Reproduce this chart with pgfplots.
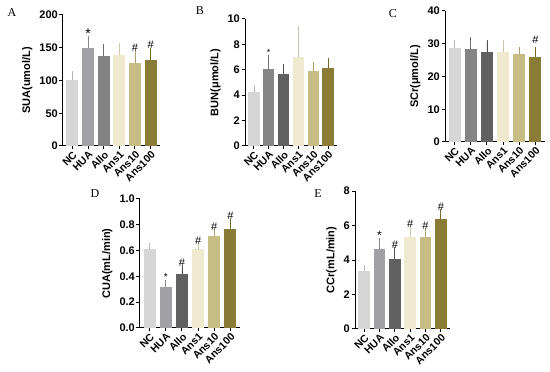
\documentclass[border=0pt]{standalone}
\usepackage{pgfplots}
\pgfplotsset{compat=1.18}
\usepackage{fontspec}
\setmainfont{Liberation Sans}
\newfontfamily\serif{Liberation Serif}
\definecolor{cNC}{HTML}{D6D6D6}
\definecolor{cHUA}{HTML}{A0A0A5}
\definecolor{cHUAb}{HTML}{858585}
\definecolor{cAlloA}{HTML}{828282}
\definecolor{cAllo}{HTML}{606060}
\definecolor{cA1}{HTML}{EFE9CF}
\definecolor{cA10}{HTML}{C7BC84}
\definecolor{cA100}{HTML}{8A7B36}
\newcommand{\onebar}[4]{\addplot[fill=#1, draw=none, error bars/.cd, y dir=plus, y explicit, error bar style={#1!85!black, line width=0.8pt}, error mark options={#1!85!black, mark size=2.8pt, line width=0.8pt}] coordinates {(#2,#3) +- (0,#4)};}
\newcommand{\hashfont}{\fontsize{11}{11}\selectfont}
\pgfplotsset{panel/.style={
  scale only axis, ymin=0, xmin=-0.6, xmax=5.6,
  axis x line=bottom, axis y line=left, axis line style={-, line width=1pt},
  tick style={black, line width=1pt}, tick align=outside, major tick length=3.5pt,
  ybar=0pt, bar width=0.76, bar shift=0pt,
  xtick={0,...,5}, xticklabels={NC,HUA,Allo,Ans1,Ans10,Ans100},
  x tick label style={rotate=45, anchor=north east, inner sep=0.5pt, font=\bfseries\fontsize{10.5}{10.5}\selectfont},
  y tick label style={font=\bfseries\fontsize{11}{11}\selectfont, inner sep=1.5pt},
  label style={font=\bfseries\fontsize{11}{11}\selectfont},
  /pgf/number format/assume math mode=true,
  clip=false,
  ylabel style={yshift=2pt},
}}
\begin{document}
\begin{tikzpicture}
\useasboundingbox (0pt,0pt) rectangle (550pt,372pt);
% A
\begin{axis}[panel, at={(63pt,226pt)}, anchor=south west, width=97pt, height=131pt, ymax=200, ytick={0,50,...,200}, ylabel={SUA(umol/L)}]
\onebar{cNC}{0}{100}{10}
\onebar{cHUA}{1}{150}{13}
\onebar{cAlloA}{2}{138}{13}
\onebar{cA1}{3}{139}{14}
\onebar{cA10}{4}{127}{13}
\onebar{cA100}{5}{132}{13}
\node[anchor=south, font=\fontsize{14}{14}\selectfont, inner sep=0pt] at (axis cs:1,164) {*};
\node[anchor=south, font=\hashfont, inner sep=1pt] at (axis cs:4,142) {\#};
\node[anchor=south, font=\hashfont, inner sep=1pt] at (axis cs:5,147) {\#};
\end{axis}
% B
\begin{axis}[panel, at={(245pt,226pt)}, anchor=south west, width=92pt, height=127pt, ymax=10, ytick={0,2,...,10}, ylabel={BUN(μmol/L)}]
\onebar{cNC}{0}{4.25}{0.35}
\onebar{cHUAb}{1}{6.1}{0.85}
\onebar{cAllo}{2}{5.7}{0.55}
\onebar{cA1}{3}{7.0}{2.2}
\onebar{cA10}{4}{5.9}{0.5}
\onebar{cA100}{5}{6.15}{0.55}
\node[anchor=south, font=\fontsize{9}{9}\selectfont, inner sep=1pt] at (axis cs:1,7.05) {*};
\end{axis}
% C
\begin{axis}[panel, at={(445pt,230pt)}, anchor=south west, width=100pt, height=131pt, ymax=40, ytick={0,10,...,40}, ylabel={SCr(μmol/L)}]
\onebar{cNC}{0}{28.8}{1.5}
\onebar{cHUAb}{1}{28.3}{2.9}
\onebar{cAllo}{2}{27.5}{2.9}
\onebar{cA1}{3}{27.5}{2.9}
\onebar{cA10}{4}{26.8}{1.4}
\onebar{cA100}{5}{26.1}{2.2}
\node[anchor=south, font=\hashfont, inner sep=1pt] at (axis cs:5,29.6) {\#};
\end{axis}
% D
\begin{axis}[panel, at={(140pt,44pt)}, anchor=south west, width=100pt, height=129pt, ymax=1, ytick={0,0.2,...,1.0}, yticklabel style={/pgf/number format/.cd, fixed, fixed zerofill, precision=1}, ylabel={CUA(mL/min)}]
\onebar{cNC}{0}{0.61}{0.03}
\onebar{cHUA}{1}{0.32}{0.03}
\onebar{cAllo}{2}{0.42}{0.04}
\onebar{cA1}{3}{0.61}{0.02}
\onebar{cA10}{4}{0.71}{0.03}
\onebar{cA100}{5}{0.77}{0.05}
\node[anchor=south, font=\fontsize{10}{10}\selectfont, inner sep=1pt] at (axis cs:1,0.36) {*};
\node[anchor=south, font=\hashfont, inner sep=1pt] at (axis cs:2,0.47) {\#};
\node[anchor=south, font=\hashfont, inner sep=1pt] at (axis cs:3,0.64) {\#};
\node[anchor=south, font=\hashfont, inner sep=1pt] at (axis cs:4,0.75) {\#};
\node[anchor=south, font=\hashfont, inner sep=1pt] at (axis cs:5,0.83) {\#};
\end{axis}
% E
\begin{axis}[panel, at={(355pt,43pt)}, anchor=south west, width=95pt, height=138pt, ymax=8, ytick={0,2,...,8}, ylabel={CCr(mL/min)}]
\onebar{cNC}{0}{3.35}{0.2}
\onebar{cHUA}{1}{4.65}{0.45}
\onebar{cAllo}{2}{4.05}{0.55}
\onebar{cA1}{3}{5.35}{0.45}
\onebar{cA10}{4}{5.35}{0.35}
\onebar{cA100}{5}{6.4}{0.4}
\node[anchor=south, font=\fontsize{12}{12}\selectfont, inner sep=1pt] at (axis cs:1,5.12) {*};
\node[anchor=south, font=\hashfont, inner sep=1pt] at (axis cs:2,4.62) {\#};
\node[anchor=south, font=\hashfont, inner sep=1pt] at (axis cs:3,5.82) {\#};
\node[anchor=south, font=\hashfont, inner sep=1pt] at (axis cs:4,5.72) {\#};
\node[anchor=south, font=\hashfont, inner sep=1pt] at (axis cs:5,6.82) {\#};
\end{axis}
\node[font=\serif\fontsize{12}{12}\selectfont] at (12pt,359pt) {A};
\node[font=\serif\fontsize{12}{12}\selectfont] at (200pt,361pt) {B};
\node[font=\serif\fontsize{12}{12}\selectfont] at (393pt,358pt) {C};
\node[font=\serif\fontsize{12}{12}\selectfont] at (95pt,178pt) {D};
\node[font=\serif\fontsize{12}{12}\selectfont] at (318pt,178pt) {E};
\end{tikzpicture}
\end{document}
